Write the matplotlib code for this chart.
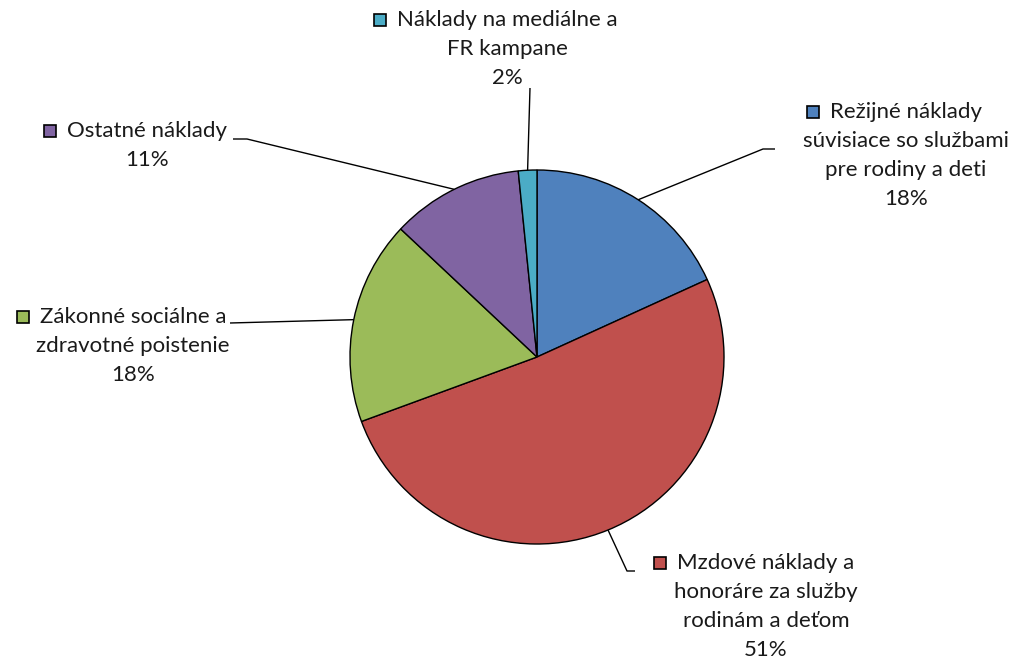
import matplotlib
matplotlib.use('Agg')
import matplotlib.pyplot as plt
from matplotlib.patches import Rectangle
import numpy as np

plt.rcParams['font.family'] = ['Lato', 'DejaVu Sans']

# data
categories = ['Režijné náklady\nsúvisiace so službami\npre rodiny a deti',
              'Mzdové náklady a\nhonoráre za služby\nrodinám a deťom',
              'Zákonné sociálne a\nzdravotné poistenie',
              'Ostatné náklady',
              'Náklady na mediálne a\nFR kampane']
shares = [18.2, 51.2, 17.6, 11.4, 1.6]
pct_labels = ['18%', '51%', '18%', '11%', '2%']
colors = ['#4F81BD', '#C0504D', '#9BBB59', '#8064A2', '#4BACC6']

# layout in pixels (y measured from top)
W, H = 1013, 664
cx, cy, r = 537, 357, 187
# label block: center x, y of first line center
label_pos = [(906, 112), (766, 563), (133, 317), (147, 131), (507, 20)]
# elbow points of leader lines (list of points after the pie anchor)
elbows = [[(763, 149), (775, 149)],
          [(627, 571), (635, 571)],
          [(230, 323)],
          [(247, 139), (233, 139)],
          [(530, 88)]]
line_h = 29

fig = plt.figure(figsize=(W / 100, H / 100), dpi=100)
ax = fig.add_axes([0, 0, 1, 1])

def Y(y):
    return H - y

wedges, _ = ax.pie(shares, colors=colors, startangle=90, counterclock=False,
                   center=(cx, Y(cy)), radius=r,
                   wedgeprops=dict(edgecolor='black', linewidth=1.0))
ax.set_xlim(0, W)
ax.set_ylim(0, H)
ax.set_aspect('equal')
ax.axis('off')

renderer = fig.canvas.get_renderer()
fs = 16
for w, name, pct, col, (lx, ly), pts in zip(wedges, categories, pct_labels,
                                              colors, label_pos, elbows):
    mid = np.deg2rad((w.theta1 + w.theta2) / 2)
    ax_pt = (cx + r * np.cos(mid), Y(cy) + r * np.sin(mid))
    xs = [ax_pt[0]] + [p[0] for p in pts]
    ys = [ax_pt[1]] + [Y(p[1]) for p in pts]
    ax.plot(xs, ys, color='black', lw=1.0, solid_capstyle='butt')

    lines = name.split('\n') + [pct]
    first = None
    for i, s in enumerate(lines):
        t = ax.text(lx, Y(ly + i * line_h), s, ha='center', va='center',
                    fontsize=fs, color='#1a1a1a')
        if i == 0:
            first = t
    bb = first.get_window_extent(renderer)
    left = bb.x0 * W / fig.bbox.width
    sq = 12
    ax.add_patch(Rectangle((left - 11 - sq, Y(ly) - sq / 2), sq, sq,
                           facecolor=col, edgecolor='black', lw=1.2))

fig.savefig('out.png', dpi=100)
